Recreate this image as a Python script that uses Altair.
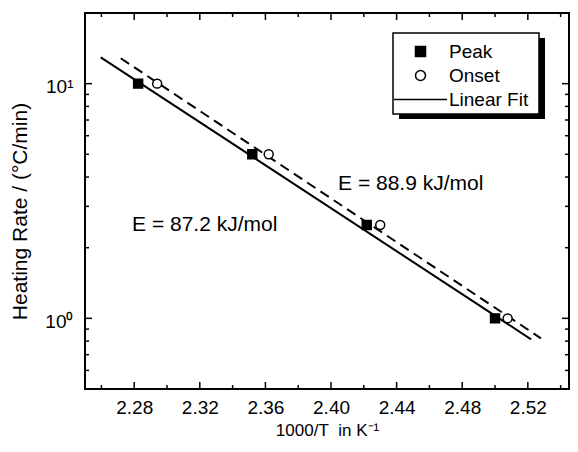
import altair as alt
import pandas as pd

# ---- data ----
peak_x = [2.2824, 2.3520, 2.4218, 2.5000]
peak_y = [10.0, 5.0, 2.5, 1.0]
onset_x = [2.2940, 2.3620, 2.4300, 2.5077]
onset_y = [10.0, 5.0, 2.5, 1.0]
fit_peak_x = [2.2596, 2.5220]
fit_peak_y = [12.95, 0.814]
fit_onset_x = [2.2718, 2.5280]
fit_onset_y = [12.83, 0.822]
series = ["Peak", "Onset", "Linear Fit"]
x_major = [2.28, 2.32, 2.36, 2.40, 2.44, 2.48, 2.52]
x_minor = [2.26, 2.30, 2.34, 2.38, 2.42, 2.46, 2.50, 2.54]
y_major = [1, 10]
y_minor = [0.5, 0.6, 0.7, 0.8, 0.9, 2, 3, 4, 5, 6, 7, 8, 9, 20]
ann_text = ["E = 87.2 kJ/mol", "E = 88.9 kJ/mol"]
ann_x = [2.2787, 2.4043]
ann_y = [2.5, 3.74]

W, H = 484, 376
FONT = "Liberation Sans"

xs = alt.Scale(domain=[2.25, 2.5451], nice=False, zero=False)
ys = alt.Scale(type="log", domain=[0.5, 20], nice=False)

pts = pd.DataFrame({
    "x": peak_x + onset_x,
    "y": peak_y + onset_y,
    "series": ["Peak"] * len(peak_x) + ["Onset"] * len(onset_x),
})
fit_p = pd.DataFrame({"x": fit_peak_x, "y": fit_peak_y})
fit_o = pd.DataFrame({"x": fit_onset_x, "y": fit_onset_y})
ann = pd.DataFrame({"x": ann_x, "y": ann_y, "t": ann_text})

xaxis = alt.Axis(values=x_major, format=".2f", ticks=False, domain=False, grid=False,
                 labelFont=FONT, labelFontSize=19, labelColor="black", labelPadding=9,
                 title="1000/T\u00a0 in K⁻¹", titleFont=FONT, titleFontSize=17,
                 titleFontWeight="normal", titleColor="black", titlePadding=5)
yaxis = alt.Axis(values=y_major, labelExpr="datum.value == 10 ? '10¹' : '10⁰'",
                 ticks=False, domain=False, grid=False,
                 labelFont=FONT, labelFontSize=19, labelColor="black", labelPadding=12,
                 labelOffset=3,
                 title="Heating Rate / (°C/min)", titleFont=FONT, titleFontSize=21,
                 titleFontWeight="normal", titleColor="black", titlePadding=14, titleY=198)

X = lambda f: alt.X(f, scale=xs, axis=xaxis)
Y = lambda f: alt.Y(f, scale=ys, axis=yaxis)

# legend decoration (box + shadow)
shadow = alt.Chart(pd.DataFrame({"a": [0]})).mark_rect(fill="black").encode(
    x=alt.value(314), x2=alt.value(460), y=alt.value(25), y2=alt.value(106))
box = alt.Chart(pd.DataFrame({"a": [0]})).mark_rect(fill="white", stroke="black", strokeWidth=1.5).encode(
    x=alt.value(308), x2=alt.value(454), y=alt.value(20), y2=alt.value(101))

line_p = alt.Chart(fit_p).mark_line(color="black", strokeWidth=2).encode(x=X("x:Q"), y=Y("y:Q"))
line_o = alt.Chart(fit_o).mark_line(color="black", strokeWidth=2, strokeDash=[10, 6]).encode(
    x=X("x:Q"), y=Y("y:Q"))

leg = dict(title=None, orient="none", legendX=326, legendY=29,
           labelFont=FONT, labelFontSize=19, labelColor="black",
           labelOffset=19, rowPadding=4, padding=0,
           symbolStrokeWidth=1.5, symbolOpacity=1)

points = alt.Chart(pts).mark_point(size=80, opacity=1, strokeWidth=1.5).encode(
    x=X("x:Q"), y=Y("y:Q"),
    shape=alt.Shape("series:N", scale=alt.Scale(domain=series, range=["square", "circle", "M-5.3,0H5.3"]),
                    legend=alt.Legend(**leg)),
    fill=alt.Fill("series:N", scale=alt.Scale(domain=series, range=["black", "white", "black"]),
                  legend=alt.Legend(**leg)),
    stroke=alt.Stroke("series:N", scale=alt.Scale(domain=series, range=["black", "black", "black"]),
                      legend=alt.Legend(**leg)),
)

text = alt.Chart(ann).mark_text(align="left", baseline="middle", font=FONT, fontSize=21, color="black").encode(
    x=X("x:Q"), y=Y("y:Q"), text="t:N")

def tick_rules(vals, orient, length):
    d = pd.DataFrame({"v": vals})
    c = alt.Chart(d).mark_rule(color="black", strokeWidth=1.5)
    if orient == "bottom":
        return c.encode(x=X("v:Q"), y=alt.value(H), y2=alt.value(H - length))
    if orient == "top":
        return c.encode(x=X("v:Q"), y=alt.value(0), y2=alt.value(length))
    if orient == "left":
        return c.encode(y=Y("v:Q"), x=alt.value(0), x2=alt.value(length))
    return c.encode(y=Y("v:Q"), x=alt.value(W), x2=alt.value(W - length))

ticks = [
    tick_rules(x_major, "bottom", 7), tick_rules(x_minor, "bottom", 4),
    tick_rules(x_major, "top", 7), tick_rules(x_minor, "top", 4),
    tick_rules(y_major, "left", 7), tick_rules(y_minor, "left", 4),
    tick_rules(y_major, "right", 7), tick_rules(y_minor, "right", 4),
]

chart = alt.layer(line_p, shadow, box, line_o, *ticks, points, text).properties(
    width=W, height=H,
    autosize=alt.AutoSizeParams(type="none"),
    padding={"left": 77, "top": 5, "right": 1, "bottom": 50},
    background="white",
).configure_view(stroke="black", strokeWidth=2)

chart.save("out.html", embed_options={"renderer": "svg", "actions": False})
